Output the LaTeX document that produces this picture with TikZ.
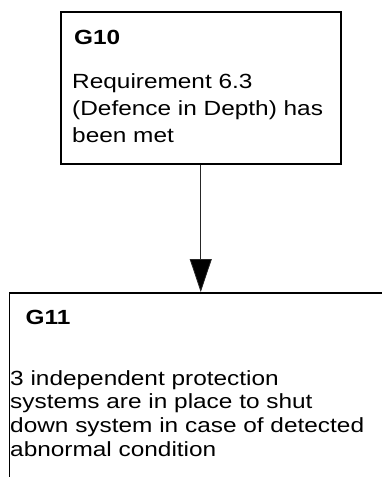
\documentclass[tikz,border=0pt]{standalone}
\usepackage{fontspec}
\setmainfont{Liberation Sans}[FakeStretch=1.19]
\usetikzlibrary{arrows.meta,positioning}

\begin{document}
\begin{tikzpicture}[
  x=1pt,y=1pt,
  goal/.style={draw,line width=1.5pt,inner sep=0pt,anchor=north west},
  goalid/.style={inner sep=0pt,anchor=north west,font=\fontsize{20.5}{24}\selectfont\bfseries},
  goaltext/.style={inner sep=0pt,anchor=north west,align=left},
  support/.style={line width=0.8pt,draw=black!85,-{Triangle[width=22pt,length=33pt,fill=black]}}
]
  \clip (0,0) rectangle (382,-477);
  \node[goal,minimum width=280pt,minimum height=152pt] (g10) at (60,-11) {};
  \node[goalid,below right=19pt and 14pt of g10.north west] (g10id) {G10};
  \node[goaltext,font=\fontsize{20.5}{27}\selectfont,below right=62pt and 12pt of g10.north west] (g10txt)
    {Requirement 6.3\\(Defence in Depth) has\\been met};

  \node[goal,minimum width=420pt,minimum height=220pt] (g11) at (8.5,-292) {};
  \node[goalid,below right=18pt and 17pt of g11.north west] (g11id) {G11};
  \node[goaltext,font=\fontsize{20.5}{23.7}\selectfont,below right=78pt and 1.5pt of g11.north west] (g11txt)
    {3 independent protection\\systems are in place to shut\\down system in case of detected\\abnormal condition};

  \draw[support] (g10.south) -- (g10.south |- g11.north);
\end{tikzpicture}
\end{document}
